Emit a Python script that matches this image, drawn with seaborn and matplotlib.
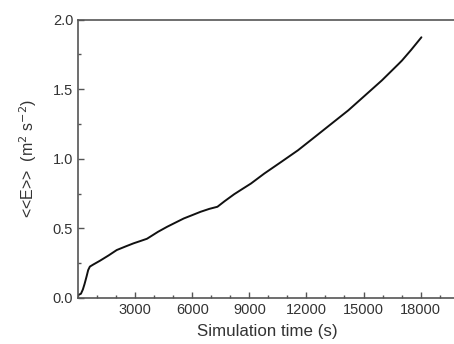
import numpy as np
import pandas as pd
import matplotlib
matplotlib.use("Agg")
import matplotlib.pyplot as plt
from matplotlib.ticker import MultipleLocator
import seaborn as sns

# values
time_s = [0, 150, 250, 340, 444, 530, 619, 800, 1148, 1600, 2031, 2500, 2910, 3300,
          3619, 3794, 4200, 4677, 5100, 5555, 6000, 6439, 6900, 7323, 7700, 8201,
          8600, 9085, 9788, 10672, 11556, 12434, 13317, 14201, 15079, 15963,
          16847, 17021, 17500, 18042]
energy = [0.02, 0.03, 0.06, 0.10, 0.153, 0.20, 0.225, 0.24, 0.267, 0.305, 0.344, 0.37,
          0.392, 0.41, 0.425, 0.44, 0.475, 0.511, 0.54, 0.571, 0.595, 0.619, 0.64,
          0.655, 0.695, 0.745, 0.78, 0.822, 0.894, 0.977, 1.061, 1.156, 1.252,
          1.348, 1.455, 1.563, 1.682, 1.706, 1.782, 1.873]

df = pd.DataFrame({"t": time_s, "E": energy})

sns.set_style("white")
plt.rcParams['font.family'] = ['Liberation Sans', 'DejaVu Sans']

fig, ax = plt.subplots(figsize=(4.54, 3.44), dpi=100)
fig.subplots_adjust(left=0.172, right=1.004, top=0.943, bottom=0.134)

sns.lineplot(data=df, x="t", y="E", ax=ax, color="#111111", linewidth=1.4)

ax.set_xlim(0, 19850)
ax.set_ylim(0, 2.0)
ax.set_xticks([3000, 6000, 9000, 12000, 15000, 18000])
ax.xaxis.set_minor_locator(MultipleLocator(1000))
ax.yaxis.set_major_locator(MultipleLocator(0.5))
ax.yaxis.set_minor_locator(MultipleLocator(0.25))
ax.yaxis.set_major_formatter(matplotlib.ticker.FormatStrFormatter('%.1f'))

for s in ax.spines.values():
    s.set_color("#555555")
    s.set_linewidth(1.2)
ax.tick_params(which="both", direction="in", color="#555555", labelcolor="#333333",
               labelsize=10.5, bottom=True, left=True)
ax.tick_params(which="major", length=4, width=1)
ax.tick_params(which="minor", length=2.5, width=1)

ax.set_xlabel("Simulation time (s)", fontsize=12.2, color="#333333", labelpad=5)
ax.set_ylabel(r"<<E>>  (m$^2$ s$^{-2}$)", fontsize=11.5, color="#333333", labelpad=10)

fig.savefig("out.png", dpi=100)
